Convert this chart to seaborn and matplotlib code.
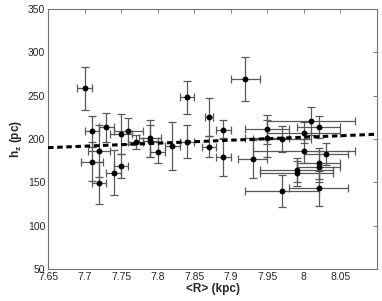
import numpy as np
import pandas as pd

import seaborn as sns
import matplotlib
matplotlib.use('Agg')
import matplotlib.pyplot as plt

sns.set_style('white')
plt.rcParams['font.family'] = ['Liberation Sans', 'DejaVu Sans']
plt.rcParams['mathtext.fontset'] = 'custom'
plt.rcParams['mathtext.rm'] = 'Liberation Sans'
plt.rcParams['mathtext.bf'] = 'Liberation Sans:bold'

# mean galactocentric radius (kpc) and scale height (pc) with errors
r_kpc = [7.70, 7.71, 7.71, 7.72, 7.72, 7.73, 7.74, 7.75, 7.75, 7.76,
         7.77, 7.79, 7.79, 7.80, 7.82, 7.84, 7.84, 7.87, 7.87, 7.89,
         7.89, 7.92, 7.93, 7.95, 7.95, 7.97, 7.97, 7.99, 7.99, 8.00,
         8.00, 8.01, 8.02, 8.02, 8.02, 8.02, 8.03]
hz_pc = [258.5, 209, 174, 186.5, 149, 213.5, 161, 205.5, 169, 209,
         197, 200.8, 197.7, 184.6, 192, 248, 197, 225.7, 191, 210.7,
         179.6, 269, 176.6, 211, 200.8, 199.7, 140, 164, 160.3, 207.3,
         186.5, 220.8, 213.8, 172, 168, 143, 182.7]
hz_err = [25, 18, 22, 30, 24, 17, 26, 23, 14, 15,
          8, 21, 18, 12, 28, 18.6, 19, 22, 12, 11,
          22, 25.6, 22, 17, 21, 15, 18, 14, 14, 12,
          14, 16.5, 13, 18, 18, 20, 13]
r_err = [0.01, 0.01, 0.015, 0.015, 0.01, 0.01, 0.01, 0.015, 0.01, 0.02,
         0.01, 0.015, 0.01, 0.01, 0.01, 0.01, 0.01, 0.005, 0.01, 0.01,
         0.01, 0.02, 0.02, 0.03, 0.03, 0.04, 0.05, 0.05, 0.05, 0.05,
         0.07, 0.06, 0.03, 0.03, 0.03, 0.04, 0.03]

# linear trend end points
trend_r = [7.65, 8.10]
trend_hz = [190, 205.5]

df = pd.DataFrame({'R': r_kpc, 'hz': hz_pc, 'hz_err': hz_err, 'R_err': r_err})
df_trend = pd.DataFrame({'R': trend_r, 'hz': trend_hz})

fig = plt.figure(figsize=(3.82, 3.01), dpi=100)
ax = fig.add_axes([48 / 382, 32 / 301, 329 / 382, 260 / 301])

ax.errorbar(df['R'], df['hz'], xerr=df['R_err'], yerr=df['hz_err'],
            fmt='none', ecolor='0.35', elinewidth=0.9, capsize=2.6, capthick=0.9,
            zorder=1)
sns.scatterplot(data=df, x='R', y='hz', color='black', s=18, edgecolor='black',
                linewidth=0, ax=ax, zorder=3)
sns.lineplot(data=df_trend, x='R', y='hz', color='black', linewidth=2.2,
             linestyle=(0, (1.8, 1.2)), ax=ax, zorder=4)

ax.set_xlim(7.65, 8.1)
ax.set_ylim(50, 350)
xt = np.arange(7.65, 8.06, 0.05)
ax.set_xticks(xt)
ax.set_xticklabels([f'{v:g}' for v in np.round(xt, 2)])
ax.set_yticks(np.arange(50, 351, 50))

ax.tick_params(direction='in', length=3, width=0.6, color='0.4',
               labelsize=7.5, top=True, right=True, pad=2)
for s in ax.spines.values():
    s.set_color('0.45')
    s.set_linewidth(0.8)

ax.set_xlabel('<R> (kpc)', fontsize=8.5, fontweight='bold', labelpad=1)
ax.set_ylabel(r'$\mathbf{h_z}$ (pc)', fontsize=8.5, fontweight='bold', labelpad=3)

fig.savefig('out.png', dpi=100)
